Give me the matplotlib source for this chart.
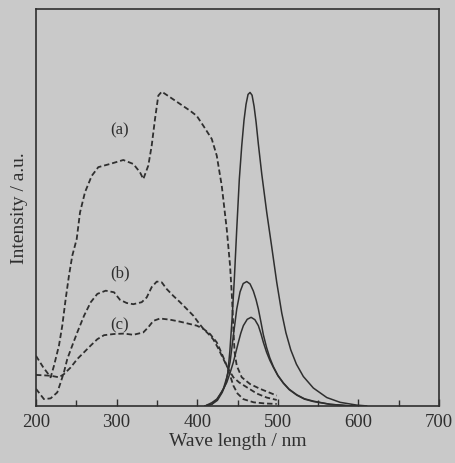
import numpy as np
import matplotlib.pyplot as plt

# excitation spectra (dashed), wavelength in nm, intensity in a.u.
exc_a_x = [200, 208.7, 218.2, 222.3, 228.5, 232.6, 236.8, 240.9, 245.0, 250.5, 254.6, 260.8,
           269.1, 277.3, 291.8, 308.3, 320.7, 329.0, 333.1, 339.3, 343.5, 347.6, 351.7, 356.0,
           366.3, 378.7, 391.1, 399.4, 407.6, 418.0, 424.2, 430.4, 436.6, 440.7, 443.2, 444.8,
           446.3, 449.0, 455.2, 465.5, 477.9, 498.6]
exc_a_y = [12.7, 9.9, 7.3, 10.2, 15.3, 20.3, 27.0, 32.9, 37.9, 42.1, 48.8, 53.9,
           58.0, 60.2, 61.0, 62.0, 61.0, 58.9, 57.2, 60.6, 65.6, 72.3, 78.2, 79.2,
           77.8, 76.1, 74.4, 73.1, 70.6, 67.3, 63.1, 55.5, 44.6, 35.4, 27.0, 19.5,
           13.7, 10.2, 7.3, 5.6, 4.4, 2.7]

exc_b_x = [200, 209.9, 218.2, 226.4, 230.6, 234.7, 238.8, 245.0, 251.2, 259.6, 267.9, 276.1,
           286.5, 296.8, 304.2, 312.5, 320.7, 331.1, 337.3, 343.5, 349.8, 356.0, 362.2, 370.3,
           378.7, 387.0, 395.2, 401.4, 407.6, 415.9, 420.0, 426.0, 432.4, 438.6, 444.8, 452.0,
           461.4, 474.0, 486.2, 498.6]
exc_b_y = [4.4, 1.8, 2.0, 3.5, 6.0, 8.6, 11.9, 15.3, 18.6, 22.8, 26.2, 28.3,
           29.1, 28.7, 26.8, 26.0, 25.7, 26.2, 27.4, 30.0, 31.4, 31.2, 29.5, 27.8,
           26.2, 24.5, 22.8, 21.1, 19.5, 17.8, 16.8, 14.6, 11.9, 9.4, 7.3, 6.0,
           4.8, 3.2, 2.2, 1.6]

exc_c_x = [200, 218.2, 228.5, 234.7, 243.1, 251.2, 259.6, 267.9, 276.1, 284.4, 296.8, 309.2,
           320.7, 333.1, 339.3, 345.5, 353.8, 366.3, 378.7, 391.1, 399.4, 407.6, 415.9, 424.2,
           428.0, 432.4, 436.6, 440.7, 444.8, 450.0, 457.2, 470.0, 485.0, 498.6]
exc_c_y = [7.9, 7.7, 7.3, 8.1, 9.8, 11.9, 13.6, 15.3, 16.9, 17.9, 18.2, 18.3,
           18.0, 18.6, 19.9, 21.5, 22.1, 21.8, 21.3, 20.7, 20.3, 19.5, 18.2, 16.1,
           14.4, 12.3, 10.2, 7.8, 5.2, 3.2, 1.8, 1.0, 0.7, 0.6]

# emission spectra (solid)
em_a_x = [409.7, 418, 425, 431, 435, 438, 440.5, 443.2, 446, 449, 452.2, 455.2,
          458, 460.5, 463, 465.5, 468, 470.5, 473, 475.8, 480, 486.2, 492.4, 498.6,
          504.8, 510, 516, 523, 531.6, 544, 560.7, 577.2, 597.9, 610]
em_a_y = [0.1, 0.5, 1.5, 3.5, 5.5, 8.5, 14, 22, 32, 44.6, 57.2, 65.6,
          72, 76, 78.5, 79.0, 78.3, 75.5, 71.5, 66.0, 58.5, 48.8, 40.1, 31.2,
          23.5, 18.5, 14.2, 10.6, 7.5, 4.6, 2.2, 1.0, 0.3, 0.1]

em_b_x = [409.7, 418, 425, 432.4, 437, 440.7, 444.8, 449, 453.1, 457, 461.4, 465.5,
          469.6, 473, 475.8, 479, 482, 486, 490, 494.4, 500, 506.8, 514, 523.5,
          533, 544, 564.8, 589.6, 600]
em_b_y = [0.1, 0.5, 1.8, 4.4, 7.5, 11.1, 17.8, 24.5, 28.8, 30.9, 31.4, 30.8,
          29.0, 26.8, 24.5, 21.2, 18.0, 14.8, 12.2, 10.0, 7.8, 5.9, 4.3, 2.9,
          1.9, 1.3, 0.5, 0.1, 0.0]

em_c_x = [411.8, 418, 424.2, 430, 436.6, 440.7, 444.8, 448, 451, 454, 457.2, 462,
          466.8, 471.5, 475.8, 479, 482, 486, 490, 494.4, 500, 506.8, 514, 523.5,
          533, 544, 564.8, 589.6, 600]
em_c_y = [0.3, 0.9, 1.8, 3.5, 6.0, 8.4, 11.1, 13.7, 16.1, 18.4, 20.3, 21.9,
          22.4, 21.8, 20.3, 18.3, 16.1, 13.6, 11.6, 9.8, 7.7, 5.8, 4.2, 2.8,
          1.8, 1.2, 0.5, 0.1, 0.0]

labels = ['(a)', '(b)', '(c)']
label_x = [304, 304, 304]
label_y = [69.8, 33.7, 20.7]

bg = '#c9c9c9'
ink = '#2f2f2f'

plt.rcParams['font.family'] = ['Liberation Serif', 'DejaVu Serif']

fig = plt.figure(figsize=(4.55, 4.64), dpi=100, facecolor=bg)
ax = fig.add_axes([0.0791, 0.1222, 0.886, 0.8562])
ax.set_facecolor(bg)

for xs, ys in [(exc_a_x, exc_a_y), (exc_b_x, exc_b_y), (exc_c_x, exc_c_y)]:
    ax.plot(xs, ys, color=ink, lw=1.3, ls=(0, (3, 1.6)))
for xs, ys in [(em_a_x, em_a_y), (em_b_x, em_b_y), (em_c_x, em_c_y)]:
    ax.plot(xs, ys, color=ink, lw=1.1)

for t, x, y in zip(labels, label_x, label_y):
    ax.text(x, y, t, fontsize=12, ha='center', va='center', color=ink)

ax.set_xlim(200, 700)
ax.set_ylim(0, 100)
ax.set_xticks(np.arange(200, 701, 100))
ax.set_xticks(np.arange(250, 700, 100), minor=True)
ax.set_yticks([])
ax.tick_params(axis='x', which='both', direction='in', colors=ink, labelsize=13.5, pad=5)
ax.tick_params(axis='x', which='major', length=5, width=1)
ax.tick_params(axis='x', which='minor', length=4, width=1)
for s in ax.spines.values():
    s.set_color(ink)
    s.set_linewidth(1.2)

ax.set_xlabel('Wave length / nm', fontsize=14, color=ink, labelpad=1)
ax.set_ylabel('Intensity / a.u.', fontsize=14, color=ink, labelpad=6)

plt.savefig('out.png', dpi=100, facecolor=bg)
